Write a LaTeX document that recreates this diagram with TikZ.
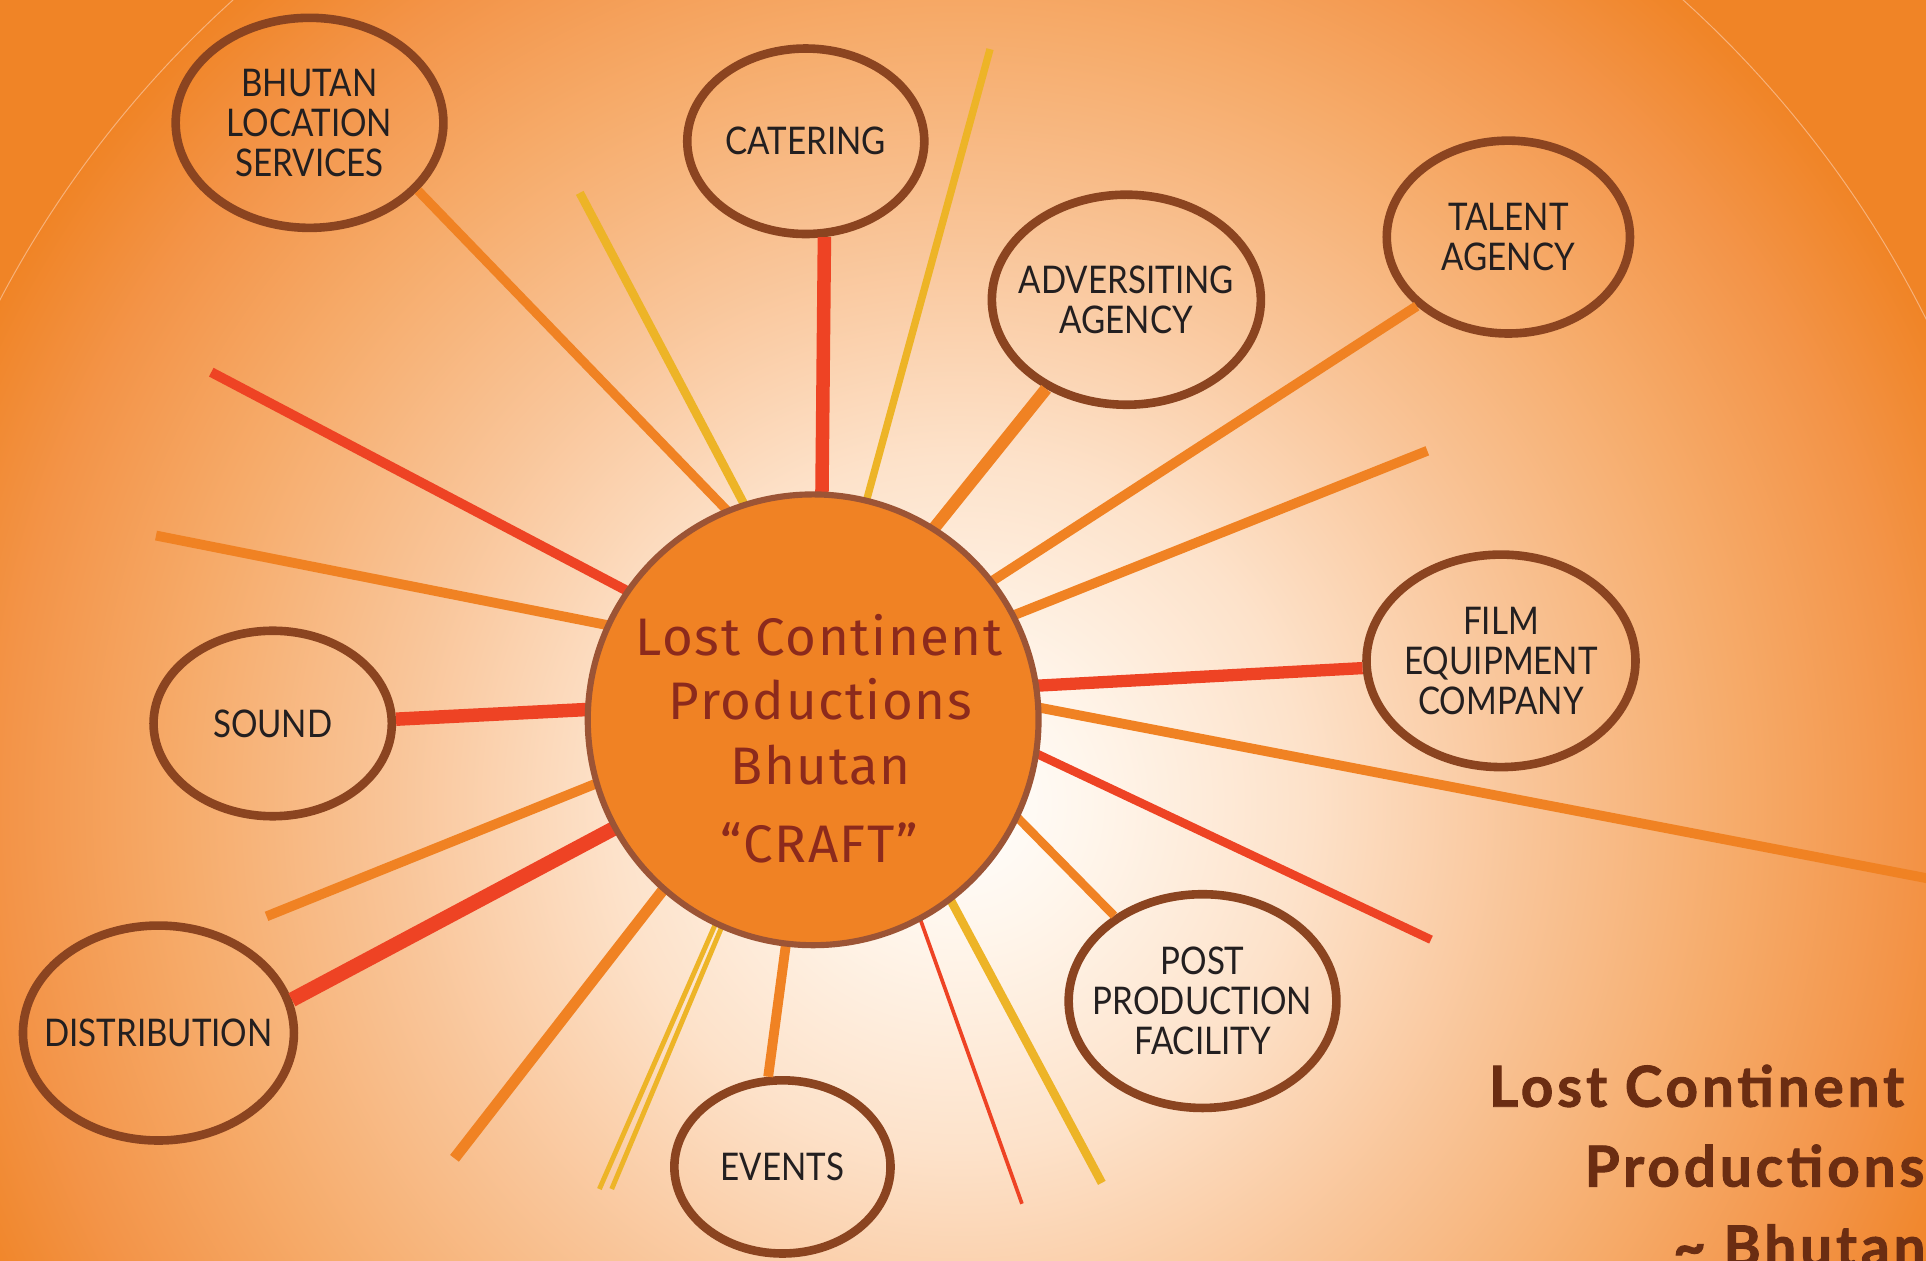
\documentclass[tikz,border=0pt]{standalone}
\usepackage{fontspec}
\setmainfont{Lato}
\newfontfamily\nodefont[FakeStretch=0.87]{Lato}
\newfontfamily\hubfont[LetterSpace=3]{Fira Sans}
\newfontfamily\titlefont[LetterSpace=7,FakeBold=1.6]{Lato}
\usetikzlibrary{shapes.geometric}
\definecolor{cA}{HTML}{FFFFFF}
\definecolor{cB}{HTML}{FFF6EC}
\definecolor{cC}{HTML}{FDE2CA}
\definecolor{cD}{HTML}{F9C599}
\definecolor{cE}{HTML}{F6AB6A}
\definecolor{cF}{HTML}{F39448}
\definecolor{cG}{HTML}{F08426}
\definecolor{lred}{HTML}{EE4324}
\definecolor{lorange}{HTML}{F08223}
\definecolor{lyellow}{HTML}{EDB427}
\definecolor{ringbrown}{HTML}{8B4420}
\definecolor{hubfill}{HTML}{F08224}
\definecolor{hubborder}{HTML}{9C5435}
\definecolor{hubtext}{HTML}{8C2A1C}
\definecolor{nodetext}{HTML}{231F20}
\definecolor{titlebrown}{HTML}{6B2D12}
\definecolor{arcline}{HTML}{F7B27A}
\pgfdeclareradialshading{bgshade}{\pgfpointorigin}{color(0bp)=(cA); color(3bp)=(cB); color(8bp)=(cC); color(13bp)=(cD); color(18bp)=(cE); color(22bp)=(cF); color(25bp)=(cG); color(50bp)=(cG)}
\tikzset{
  bubble/.style={ellipse, draw=ringbrown, line width=7pt, inner sep=-15pt,
    text=nodetext, align=center, font=\nodefont\fontsize{31}{32.5}\selectfont},
  hubline/.style={anchor=base, text=hubtext, font=\hubfont\fontsize{43}{50}\selectfont, inner sep=0pt},
  titleline/.style={anchor=base west, text=titlebrown, font=\titlefont\bfseries\fontsize{46}{60}\selectfont, inner sep=0pt},
  spoke/.style={line width=#1},
  rs/.style={spoke=#1, draw=lred},
  os/.style={spoke=#1, draw=lorange},
  ys/.style={spoke=#1, draw=lyellow}
}
\begin{document}
\begin{tikzpicture}[x=1pt,y=-1pt]
\useasboundingbox (0,0) rectangle (1568,1026);
\clip (0,0) rectangle (1568,1026);
% background
\shade[shading=bgshade] (-101,-227) rectangle (1661,1535);
\draw[draw=arcline, line width=0.8pt] (780,654) circle[radius=881pt];

% bubbles
\node[bubble, minimum width=218pt, minimum height=171pt] (bls) at (252,100) {BHUTAN\\LOCATION\\SERVICES};
\node[bubble, minimum width=193pt, minimum height=151pt] (cat) at (656,115) {CATERING};
\node[bubble, minimum width=219pt, minimum height=171pt] (adv) at (917,244) {ADVERSITING\\AGENCY};
\node[bubble, minimum width=198pt, minimum height=157pt] (tal) at (1228,193) {TALENT\\AGENCY};
\node[bubble, minimum width=219pt, minimum height=173pt] (film) at (1222,538) {FILM\\EQUIPMENT\\COMPANY};
\node[bubble, minimum width=218pt, minimum height=174pt] (post) at (979,815) {POST\\PRODUCTION\\FACILITY};
\node[bubble, minimum width=176pt, minimum height=141pt] (evt) at (637,950) {EVENTS};
\node[bubble, minimum width=219pt, minimum height=175pt] (dist) at (129,841) {DISTRIBUTION};
\node[bubble, minimum width=194pt, minimum height=151pt] (snd) at (222,589) {SOUND};

% spoke starts (under the hub)
\coordinate (s1) at (600,424);
\coordinate (s2) at (669,420);
\coordinate (s3) at (750,443);
\coordinate (s4) at (800,478);
\coordinate (s5) at (830,559);
\coordinate (s6) at (815,652);
\coordinate (s7) at (641,760);
\coordinate (s8) at (510,669);
\coordinate (s9) at (490,577);
% free spokes
\coordinate (f1a) at (614,426);  \coordinate (f1b) at (472,157);
\coordinate (f2a) at (702,420);  \coordinate (f2b) at (806,40);
\coordinate (f3a) at (815,505);  \coordinate (f3b) at (1162,367);
\coordinate (f4a) at (830,573);  \coordinate (f4b) at (1600,721);
\coordinate (f5a) at (830,607);  \coordinate (f5b) at (1165,765);
\coordinate (f6a) at (765,716);  \coordinate (f6b) at (897,963);
\coordinate (f7a) at (743,731);  \coordinate (f7b) at (832,980);
\coordinate (f8a) at (590,735);  \coordinate (f8b) at (488,968);
\coordinate (f9a) at (595,737);  \coordinate (f9b) at (498,968);
\coordinate (f10a) at (548,714); \coordinate (f10b) at (370,943);
\coordinate (f11a) at (495,634); \coordinate (f11b) at (217,746);
\coordinate (f12a) at (505,511); \coordinate (f12b) at (127,436);
\coordinate (f13a) at (520,486); \coordinate (f13b) at (172,303);

% connected spokes
\draw[os=7.5pt] (s1) -- (bls.-32);
\draw[rs=11pt] (s2) -- (cat.-79.4);
\draw[os=10pt] (s3) -- (adv.-132.2);
\draw[os=8pt] (s4) -- (tal.-143.1);
\draw[rs=10pt] (s5) -- (film.183.5);
\draw[os=7pt] (s6) -- (post.136.6);
\draw[os=8pt] (s7) -- (evt.99.5);
\draw[rs=12pt] (s8) -- (dist.14.2);
\draw[rs=11pt] (s9) -- (snd.2.3);
% free spokes
\draw[ys=7pt] (f1a) -- (f1b);
\draw[ys=6pt] (f2a) -- (f2b);
\draw[os=8pt] (f3a) -- (f3b);
\draw[os=8pt] (f4a) -- (f4b);
\draw[rs=7pt] (f5a) -- (f5b);
\draw[ys=7pt] (f6a) -- (f6b);
\draw[rs=3pt] (f7a) -- (f7b);
\draw[ys=4pt] (f8a) -- (f8b);
\draw[ys=4pt] (f9a) -- (f9b);
\draw[os=9pt] (f10a) -- (f10b);
\draw[os=8pt] (f11a) -- (f11b);
\draw[os=8pt] (f12a) -- (f12b);
\draw[rs=8pt] (f13a) -- (f13b);

% hub
\node[circle, minimum size=367pt, inner sep=0pt, fill=hubfill, draw=hubborder, line width=5pt] (hub) at (662,586) {};
\node[hubline] (h1) at (667,534) {Lost Continent};
\node[hubline] (h2) at (668,586) {Productions};
\node[hubline] (h3) at (668,639) {Bhutan};
\node[hubline] (h4) at (667,702) {“CRAFT”};

% title
\node[titleline] (t1) at (1212,901) {Lost Continent};
\node[titleline] (t2) at (1290,966) {Productions};
\node[titleline] (t3) at (1362,1031) {\textasciitilde{} Bhutan};
\end{tikzpicture}
\end{document}
